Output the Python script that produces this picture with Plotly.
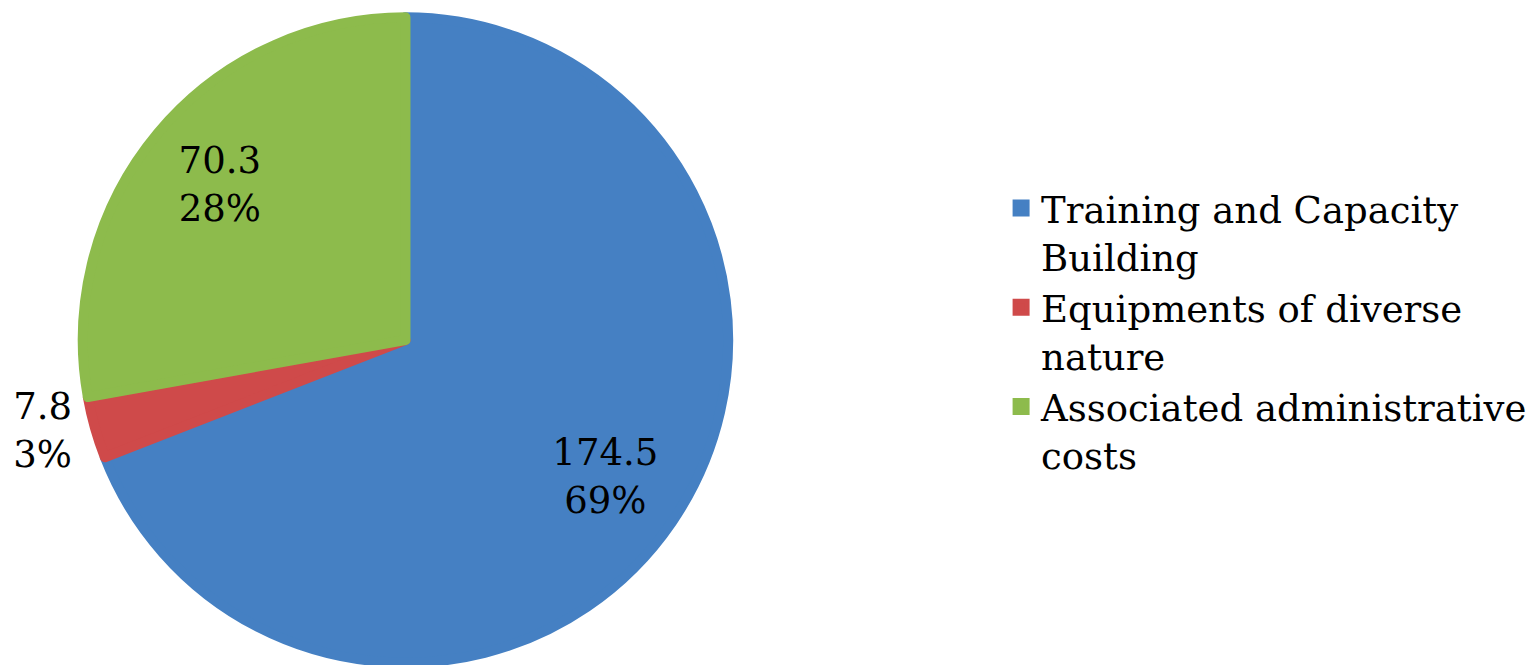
import plotly.graph_objects as go

labels = ["Training and Capacity<br>Building", "Equipments of diverse<br>nature", "Associated administrative<br>costs"]
values = [174.5, 7.8, 70.3]
colors = ["#4580C3", "#CF4A4A", "#8DBB4C"]
text_positions = ["inside", "outside", "inside"]

FONT = "DejaVu Serif"
TXT = "%{value:.1f}<br>%{percent:.0%}"
DOMAIN = dict(x=[0.045, 0.4674], y=[0.0135, 0.988])

# base pie: colours + legend
fig = go.Figure(go.Pie(
    labels=labels,
    values=values,
    sort=False,
    direction="clockwise",
    rotation=0,
    marker=dict(colors=colors, line=dict(color=colors, width=10)),
    textinfo="none",
    hoverinfo="skip",
    domain=DOMAIN,
    showlegend=True,
))

# transparent ring on top: places the data labels toward the rim
fig.add_trace(go.Pie(
    labels=labels,
    values=values,
    sort=False,
    direction="clockwise",
    rotation=0,
    hole=0.5,
    marker=dict(colors=["rgba(0,0,0,0)"] * 3, line=dict(width=0)),
    texttemplate=TXT,
    textposition=text_positions,
    insidetextorientation="horizontal",
    textfont=dict(family=FONT, size=37, color="black"),
    hoverinfo="label+value+percent",
    domain=DOMAIN,
    showlegend=False,
))

fig.update_layout(
    width=1534, height=665,
    margin=dict(l=0, r=0, t=0, b=0),
    paper_bgcolor="white",
    plot_bgcolor="white",
    font=dict(family=FONT, size=37, color="black"),
    legend=dict(
        x=0.646, y=0.745, xanchor="left", yanchor="top",
        valign="top",
        font=dict(family=FONT, size=37, color="black"),
        bgcolor="rgba(0,0,0,0)",
    ),
)

fig.write_html("out.html")
